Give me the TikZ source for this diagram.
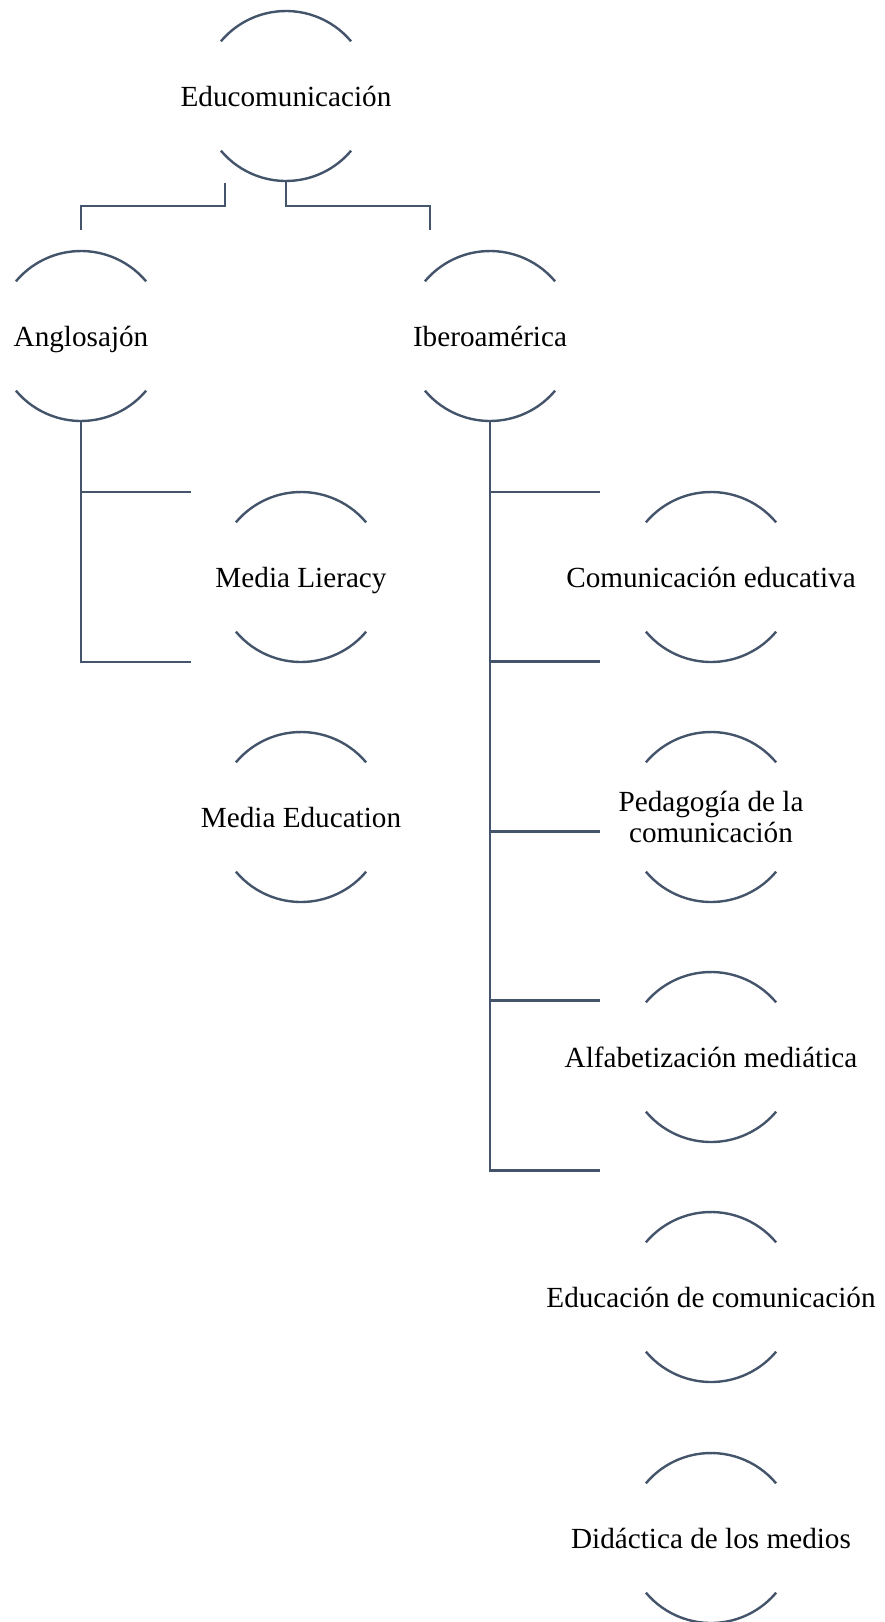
\documentclass[tikz,border=0pt]{standalone}
\usepackage{fontspec}
\setmainfont{Liberation Serif}
\usepackage{tikz}
\usetikzlibrary{calc}

\definecolor{slate}{HTML}{44546A}

\tikzset{
    bubble/.style = {draw = none, inner sep = 0pt, align = center,
        font = \fontsize{14.6}{15.5}\selectfont},
    oneline/.style = {bubble, text height = 10pt, text depth = 0pt},
    arcline/.style = {draw = slate, line width = 1.2pt},
    link/.style = {draw = slate, line width = 1.4pt}
}

\begin{document}
\begin{tikzpicture}[x = 0.5pt, y = 0.5pt]
        \useasboundingbox (0,0) rectangle (884,-1622);

        \node[oneline] (edu) at (286,-96) {Educomunicación};
        \node[oneline] (anglo) at (81,-336) {Anglosajón};
        \node[oneline] (ibero) at (490,-336) {Iberoamérica};
        \node[oneline] (lit) at (301,-577) {Media Lieracy};
        \node[oneline] (medu) at (301,-817) {Media Education};
        \node[oneline] (comedu) at (711,-577) {Comunicación educativa};
        \node[bubble] (ped) at (711,-817) {Pedagogía de la\\comunicación};
        \node[oneline] (alfa) at (711,-1057) {Alfabetización mediática};
        \node[oneline] (educom) at (711,-1297) {Educación de comunicación};
        \node[oneline] (did) at (711,-1538) {Didáctica de los medios};

        % the two arcs round each label
        \foreach \n in {edu,anglo,ibero,lit,medu,comedu,ped,alfa,educom,did} {
            \draw[arcline] ([shift={(40:85)}]\n.center)
                arc[start angle = 40, end angle = 140, radius = 85];
            \draw[arcline] ([shift={(220:85)}]\n.center)
                arc[start angle = 220, end angle = 320, radius = 85];
        }

        \coordinate (edu-l) at ([shift={(-61,-87)}]edu.center);
        \coordinate (edu-s) at ([shift={(0,-85)}]edu.center);
        \coordinate (anglo-t) at ([shift={(0,106.5)}]anglo.center);
        \coordinate (ibero-t) at ([shift={(-60,106.5)}]ibero.center);
        \coordinate (anglo-s) at ([shift={(0,-85)}]anglo.center);
        \coordinate (ibero-s) at ([shift={(0,-85)}]ibero.center);

        \draw[link] (edu-l) -- ++(0,-23) -| (anglo-t);
        \draw[link] (edu-s) -- ++(0,-25) -| (ibero-t);

        \draw[link] (anglo-s) |- ([shift={(-110,85)}]lit.center);
        \draw[link] (anglo-s) |- ([shift={(-110,-85)}]lit.center);

        \foreach \k in {0,...,4}
            \draw[link] (ibero-s) |- ++(110,-71-169.6*\k);
    \end{tikzpicture}
\end{document}
